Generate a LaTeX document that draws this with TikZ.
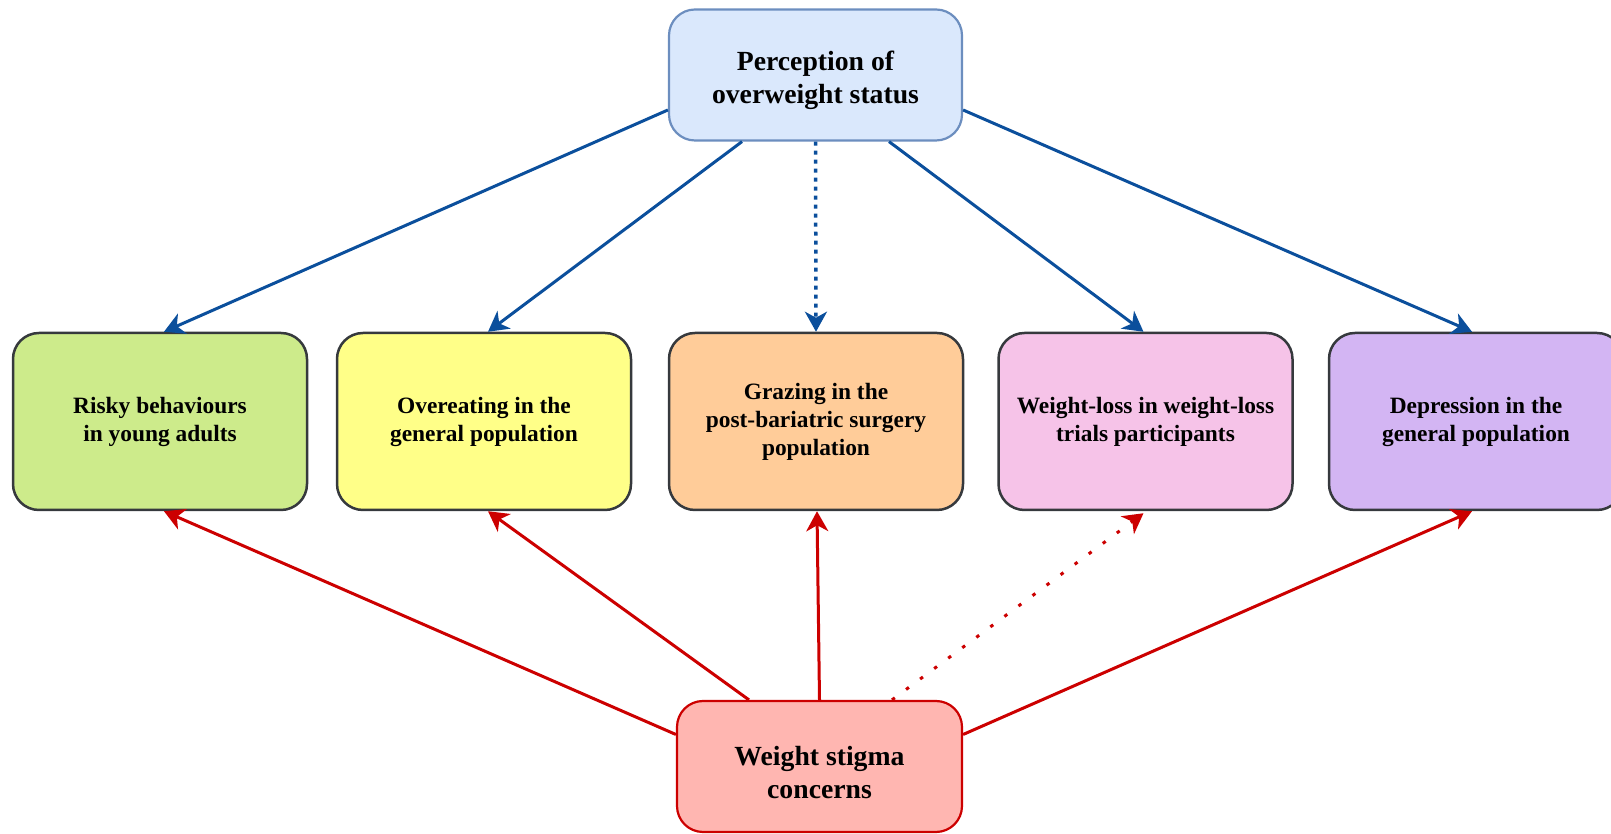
\documentclass[tikz,border=0pt]{standalone}
\usepackage{fontspec}
\setmainfont{Liberation Serif}
\usetikzlibrary{arrows.meta,calc}
\definecolor{topfill}{HTML}{DAE8FC}
\definecolor{topline}{HTML}{6C8EBF}
\definecolor{arrblue}{HTML}{0B4F9C}
\definecolor{arrred}{HTML}{CC0000}
\definecolor{boxline}{HTML}{36393D}
\definecolor{cgreen}{HTML}{CDEB8B}
\definecolor{cyellow}{HTML}{FFFF88}
\definecolor{corange}{HTML}{FFCC99}
\definecolor{cpink}{HTML}{F6C3E8}
\definecolor{cpurple}{HTML}{D3B5F3}
\definecolor{stigfill}{HTML}{FFB6B1}
\newcommand{\lowtext}[2]{\raisebox{#1}[0pt][0pt]{\begin{tabular}{@{}c@{}}#2\end{tabular}}}
\begin{document}
\begin{tikzpicture}[x=1pt,y=1pt,
  outcome/.style={draw=boxline, line width=2.5pt, rounded corners=26pt,
    minimum width=294pt, minimum height=177pt, inner sep=0pt, align=center,
    font=\fontsize{23.4}{28}\selectfont\bfseries},
  bigbox/.style={line width=2.2pt, rounded corners=26pt,
    minimum height=131pt, inner sep=0pt,
    font=\fontsize{27.7}{33.5}\selectfont\bfseries},
  tipshape/.style={-{Stealth[length=20pt,width=22pt,inset=6pt]}},
  bluearr/.style={draw=arrblue, line width=3pt, tipshape},
  redarr/.style={draw=arrred, line width=3pt, tipshape},
  bluedots/.style={dash pattern=on 4pt off 5pt, line width=3.5pt},
  reddots/.style={dash pattern=on 3.5pt off 14pt}
]
\useasboundingbox (0,0) rectangle (1611,834);

\node[bigbox, draw=topline, fill=topfill, minimum width=293pt] (top) at (815.5,759)
  {\lowtext{-11.5pt}{Perception of\\overweight status}};

\node[outcome, fill=cgreen]   (b1) at (160,412.5)  {Risky behaviours\\in young adults};
\node[outcome, fill=cyellow]  (b2) at (484,412.5)  {Overeating in the\\general population};
\node[outcome, fill=corange]  (b3) at (816,412.5)  {Grazing in the\\post-bariatric surgery\\population};
\node[outcome, fill=cpink]    (b4) at (1145.5,412.5) {Weight-loss in weight-loss\\trials participants};
\node[outcome, fill=cpurple]  (b5) at (1476,412.5) {Depression in the\\general population};

\node[bigbox, draw=arrred, fill=stigfill, minimum width=285pt] (stig) at (819.5,67.5)
  {\lowtext{-15pt}{Weight stigma\\concerns}};

% blue arrows
\draw[bluearr] ([yshift=-35pt]top.west) -- ([xshift=4pt]b1.north);
\draw[bluearr] ([xshift=-73.5pt]top.south) -- ([xshift=4pt]b2.north);
\draw[bluearr, bluedots] (top.south) -- (b3.north);
\draw[bluearr] ([xshift=73.5pt]top.south) -- ([xshift=-2pt]b4.north);
\draw[bluearr] ([yshift=-35pt]top.east) -- ([xshift=-4pt]b5.north);

% red arrows
\draw[redarr] ([yshift=32pt]stig.west) -- ([xshift=4pt]b1.south);
\draw[redarr] ([xshift=-70.5pt]stig.north) -- ([xshift=4pt]b2.south);
\draw[redarr] (stig.north) -- ([xshift=1pt]b3.south);
\draw[redarr, reddots] ([xshift=72.5pt]stig.north) -- ([xshift=-2pt,yshift=-2pt]b4.south);
\draw[redarr] ([yshift=32pt]stig.east) -- ([xshift=-4pt]b5.south);
\end{tikzpicture}
\end{document}
